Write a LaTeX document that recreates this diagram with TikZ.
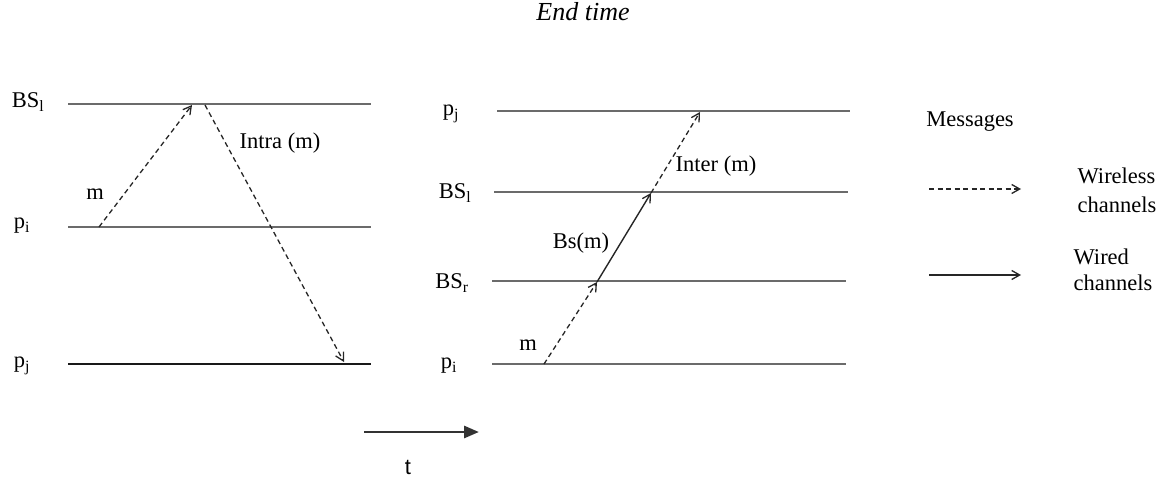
\documentclass[tikz,border=0pt]{standalone}
\usepackage{fontspec}
\setmainfont{Liberation Serif}
\newfontfamily\arialfont{Liberation Sans}
\usetikzlibrary{arrows.meta}
\begin{document}
\begin{tikzpicture}[x=1pt,y=-1pt,
  tl/.style={draw=black!58,line width=2.3pt},
  tlb/.style={draw=black!90,line width=1.8pt},
  lbl/.style={inner sep=0pt,font=\fontsize{22.5}{26}\selectfont},
  wless/.style={draw=black!85,line width=1.3pt,dash pattern=on 5pt off 3.5pt,-{Straight Barb[length=8pt,width=9pt,line width=1.3pt]}},
  wired/.style={draw=black!85,line width=1.4pt,-{Straight Barb[length=8pt,width=9pt,line width=1.3pt]}}]
\useasboundingbox (0,0) rectangle (1164,480);
% title
\node[inner sep=0pt,font=\fontsize{26}{30}\selectfont\itshape] (title) at (583,12) {End time};
% left panel
\coordinate (L1a) at (68,104); \coordinate (L1b) at (371,104);
\coordinate (L2a) at (68,227); \coordinate (L2b) at (371,227);
\coordinate (L3a) at (68,364); \coordinate (L3b) at (371,364);
\draw[tl] (L1a) -- (L1b);
\draw[tl] (L2a) -- (L2b);
\draw[tlb] (L3a) -- (L3b);
\node[lbl] (lbs) at (28,102) {BS\textsubscript{l}};
\node[lbl] (lpi) at (22,226) {p\textsubscript{i}};
\node[lbl] (lpj) at (22,366) {p\textsubscript{j}};
\coordinate (ls) at (99,227); \coordinate (le) at (192,105);
\coordinate (is) at (205,105); \coordinate (ie) at (344,362);
\draw[wless] (ls) -- (le);
\draw[wless] (is) -- (ie);
\node[lbl] (lm) at (95,194) {m};
\node[lbl] (lintra) at (280,143) {Intra (m)};
% middle panel
\coordinate (M1a) at (497,111); \coordinate (M1b) at (850,111);
\coordinate (M2a) at (494,192); \coordinate (M2b) at (848,192);
\coordinate (M3a) at (492,281); \coordinate (M3b) at (846,281);
\coordinate (M4a) at (492,364); \coordinate (M4b) at (846,364);
\draw[tl] (M1a) -- (M1b);
\draw[tl] (M2a) -- (M2b);
\draw[tl] (M3a) -- (M3b);
\draw[tl] (M4a) -- (M4b);
\node[lbl] (mpj) at (451,114) {p\textsubscript{j}};
\node[lbl] (mbsl) at (455,193) {BS\textsubscript{l}};
\node[lbl] (mbsr) at (452,283) {BS\textsubscript{r}};
\node[lbl] (mpi) at (449,366) {p\textsubscript{i}};
\coordinate (a0) at (544,364); \coordinate (a1) at (597,282);
\coordinate (a2) at (651,193); \coordinate (a3) at (700,112);
\draw[wless] (a0) -- (a1);
\draw[wired] (a1) -- (a2);
\draw[wless] (a2) -- (a3);
\node[lbl] (mm) at (528,345) {m};
\node[lbl] (mbs) at (581,243) {Bs(m)};
\node[lbl] (minter) at (716,166) {Inter (m)};
% legend
\node[lbl] (msg) at (970,122) {Messages};
\coordinate (w1) at (929,189); \coordinate (w2) at (1021,189);
\coordinate (d1) at (929,275); \coordinate (d2) at (1021,275);
\draw[wless] (w1) -- (w2);
\draw[wired] (d1) -- (d2);
\node[lbl,align=left,font=\fontsize{22.5}{29}\selectfont] (wl) at (1117,190) {Wireless\\channels};
\node[lbl,align=left,font=\fontsize{22.5}{26.5}\selectfont] (wd) at (1113,270) {Wired\\channels};
% time axis
\coordinate (t1) at (364,432); \coordinate (t2) at (479,432);
\draw[draw=black!80,line width=2.8pt,-{Triangle[length=15pt,width=12pt]}] (t1) -- (t2);
\node[inner sep=0pt,font=\arialfont\fontsize{22}{26}\selectfont] (tt) at (408,467) {t};
\end{tikzpicture}
\end{document}
